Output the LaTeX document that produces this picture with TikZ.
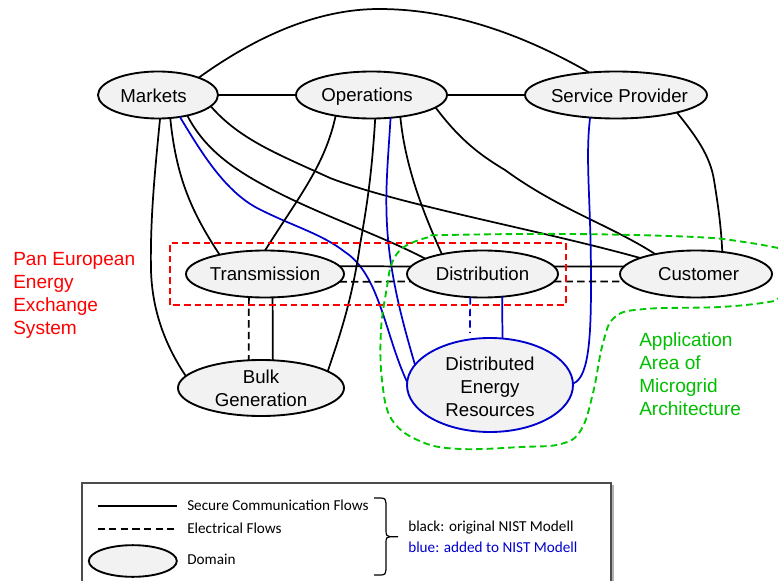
\documentclass[tikz,border=0pt]{standalone}
\usepackage{fontspec}
\usetikzlibrary{shapes.geometric}
\setmainfont{Liberation Sans}
\newfontfamily\legendfont{Carlito}
\definecolor{domfill}{HTML}{F2F2F2}
\definecolor{addblue}{RGB}{0,0,205}
\definecolor{areagreen}{RGB}{0,200,0}
\definecolor{areatext}{RGB}{0,190,0}
\definecolor{panred}{RGB}{255,0,0}
\tikzset{
  dom/.style={ellipse,draw=black,fill=domfill,line width=1.4pt,inner sep=0pt,outer sep=0pt},
  lbl/.style={font=\fontsize{14pt}{17.25pt}\selectfont,align=center,inner sep=0pt,text=black},
  flow/.style={black,line width=1.3pt},
  elec/.style={black,line width=1.3pt,dash pattern=on 5.5pt off 3.2pt},
  addflow/.style={addblue,line width=1.3pt},
  addelec/.style={addblue,line width=1.3pt,dash pattern=on 5.5pt off 3.2pt},
  side/.style={font=\fontsize{14.3pt}{17.25pt}\selectfont,align=left,inner sep=0pt,anchor=west},
  leg/.style={font=\legendfont\fontsize{11.4pt}{13pt}\selectfont,inner sep=0pt,anchor=west},
  arealine/.style={areagreen,line width=1.4pt,dash pattern=on 5pt off 3pt},
  panline/.style={panred,line width=1.4pt,dash pattern=on 5pt off 3pt}
}
\begin{document}
\begin{tikzpicture}[x=0.75pt,y=-0.75pt]
\useasboundingbox (0,0) rectangle (778,581);
% domains
\node[dom,minimum width=90pt,minimum height=35.25pt,label={[lbl,xshift=-3.3pt,yshift=-0.6pt]center:Markets}] (m) at (158,95) {};
\node[dom,minimum width=113.25pt,minimum height=35.25pt,label={[lbl,xshift=-3.3pt,yshift=-1.5pt]center:Operations}] (o) at (371.5,95) {};
\node[dom,minimum width=136.5pt,minimum height=35.25pt,label={[lbl,xshift=2.6pt,yshift=-0.8pt]center:Service Provider}] (s) at (616,95) {};
\node[dom,minimum width=118.5pt,minimum height=35.25pt,label={[lbl]center:Transmission}] (t) at (265,274) {};
\node[dom,minimum width=113.25pt,minimum height=35.25pt,label={[lbl]center:Distribution}] (d) at (482.5,274) {};
\node[dom,minimum width=114pt,minimum height=35.25pt,label={[lbl,xshift=1.9pt]center:Customer}] (c) at (696,274) {};
\node[dom,minimum width=124.5pt,minimum height=42pt,label={[lbl]center:Bulk\\Generation}] (b) at (261,388) {};
\node[dom,draw=addblue,minimum width=124.5pt,minimum height=70.5pt,label={[lbl,yshift=-1.3pt]center:Distributed\\Energy\\Resources}] (r) at (490,385) {};
% flows from Markets
\draw[flow] (m) -- (o);
\draw[flow] (o) -- (s);
\draw[flow] (m.23.7) .. controls (265,30) and (325,9) .. (379,9) .. controls (440,9) and (510,27) .. (s.140.6);
\draw[flow] (m.-85) .. controls (155,170) and (150,220) .. (151,270) .. controls (152,310) and (165,345) .. (b.171);
\draw[flow] (m.-62.4) .. controls (176,175) and (190,210) .. (t.157.8);
\draw[flow] (m.-35) .. controls (205,150) and (235,170) .. (269,188) .. controls (320,215) and (380,235) .. (d.165.6);
\draw[addflow] (m.-45) .. controls (200,150) and (225,193) .. (261,210) .. controls (295,227) and (322,234) .. (345,252) .. controls (380,275) and (385,335) .. (r.178.7);
\draw[flow] (m.-12.5) .. controls (240,140) and (280,155) .. (330,178) .. controls (400,205) and (540,230) .. (c.164.6);
% flows from Operations
\draw[flow] (o.-150) .. controls (325,165) and (300,195) .. (t.90);
\draw[flow] (o.-81.3) .. controls (372,170) and (368,200) .. (360,245) .. controls (352,300) and (340,335) .. (b.14.6);
\draw[addflow] (o.-50) .. controls (388,160) and (385,190) .. (387,225) .. controls (390,280) and (405,330) .. (r.165.4);
\draw[flow] (o.-37.7) .. controls (405,165) and (422,210) .. (d.154.7);
\draw[flow] (o.-11.4) .. controls (460,140) and (480,155) .. (505,170) .. controls (560,210) and (610,225) .. (c.154);
% flows from Service Provider
\draw[addflow] (s.-139.6) .. controls (585,160) and (591,200) .. (591,280) .. controls (591,330) and (590,378) .. (r.1.4);
\draw[flow] (s.-16.2) .. controls (695,135) and (710,155) .. (714,180) .. controls (718,205) and (721,225) .. (c.40.6);
% row links
\draw[flow] (t.6) -- (d.174);
\draw[elec] (t.-6) -- (d.186);
\draw[flow] (d.6) -- (c.174);
\draw[elec] (d.-6) -- (c.186);
\draw[flow] (t.-72) -- (b.67.5);
\draw[elec] (t.-125.5) -- (b.114);
\draw[addflow] (d.-49.3) -- (r.75.5);
\coordinate (derdash) at (470,333);
\draw[addelec] (d.-118) -- (derdash);
% areas
\node[draw=none,inner sep=0pt,outer sep=0pt,minimum width=297pt,minimum height=46.7pt] (pan) at (368,273.85) {};
\draw[panline] (pan.south west) rectangle (pan.north east);
\draw[arealine] plot[smooth,tension=0.65] coordinates {(778,248) (744,242) (695,237) (571,234) (447,235) (429,237) (404,247) (392,263) (387,287) (381,330) (382,380) (392,420) (422,442) (461,449) (521,447) (561,444) (581,430) (593,393) (603,343) (615,317) (645,309) (720,307) (769,302) (778,298)};
% side labels
\node[side,text=panred] (pantext) at (13,295) {Pan European\\Energy\\Exchange\\System};
\node[side,text=areatext] (areatext) at (639,374.5) {Application\\Area of\\Microgrid\\Architecture};
% legend
\draw[line width=1.5pt,black!30] (612.5,485) -- (612.5,581);
\draw[line width=1.1pt,black!70] (82,581) -- (82,483) -- (611,483) -- (611,581);
\coordinate (l1a) at (97.5,505.7); \coordinate (l1b) at (177,505.7);
\coordinate (l2a) at (97.5,529); \coordinate (l2b) at (177,529);
\draw[flow] (l1a) -- (l1b);
\draw[elec] (l2a) -- (l2b);
\node[dom,minimum width=66pt,minimum height=23.75pt] (ldom) at (132.8,561) {};
\node[leg] (lt1) at (187,505) {Secure Communication Flows};
\node[leg] (lt2) at (187,528) {Electrical Flows};
\node[leg] (lt3) at (187,559) {Domain};
\draw[line width=0.9pt,black] (374,498) -- (381,498) .. controls (385,498) and (386,500) .. (386,503) -- (386,531) .. controls (386,535) and (387,536.7) .. (390,536.7) -- (398,536.7);
\draw[line width=0.9pt,black] (374,575) -- (381,575) .. controls (385,575) and (386,573) .. (386,570) -- (386,542) .. controls (386,538) and (387,536.7) .. (390,536.7);
\node[leg] (lt4) at (408,528) {black: original NIST Modell};
\node[leg,text=addblue] (lt5) at (408,547) {blue: added to NIST Modell};
\end{tikzpicture}
\end{document}
